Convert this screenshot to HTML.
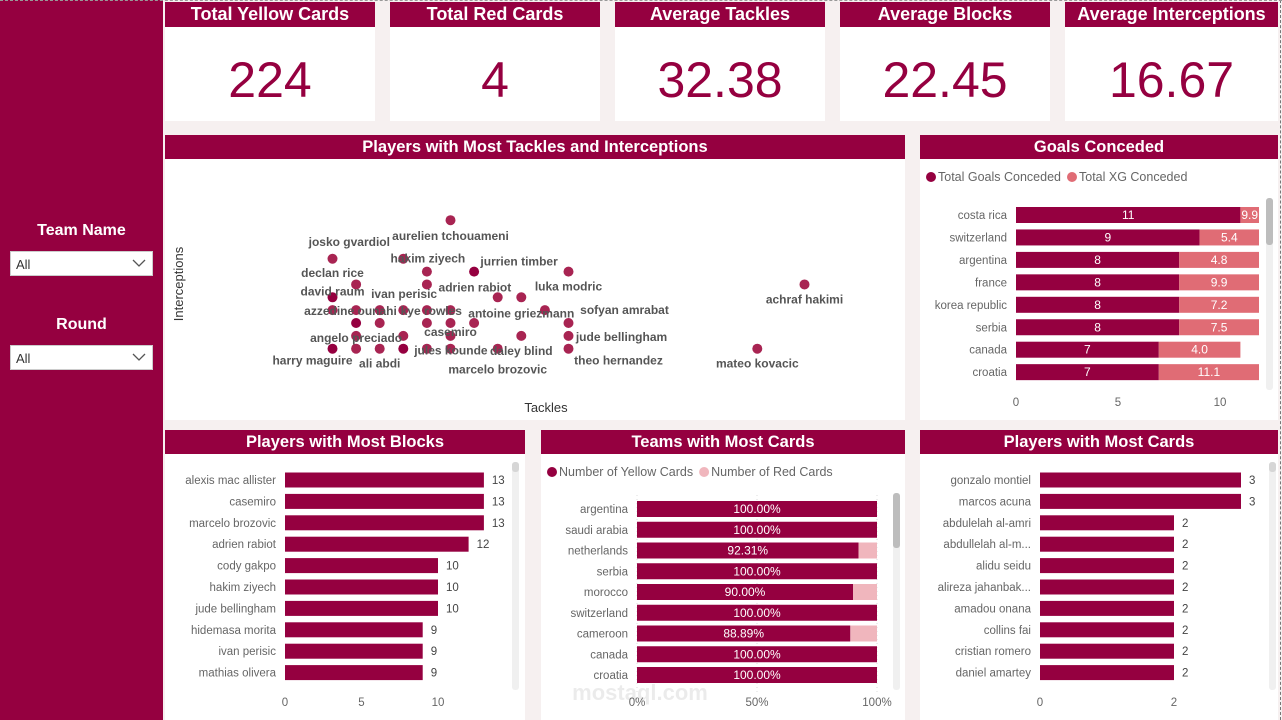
<!DOCTYPE html>
<html><head><meta charset="utf-8">
<style>
html,body{margin:0;padding:0}
body{width:1282px;height:720px;position:relative;background:#f6f0f0;font-family:"Liberation Sans",sans-serif;overflow:hidden}
.abs{position:absolute}
.side{left:0;top:0;width:163px;height:720px;background:#950040}
.slabel{position:absolute;left:0;width:163px;text-align:center;color:#fff;font-weight:bold;font-size:16px}
.dd{position:absolute;left:10px;width:143px;height:25px;background:#fff;border:1px solid #ccc;font-size:13px;color:#333;line-height:25px;box-sizing:border-box;padding-left:5px}
.dd svg{position:absolute;right:6px;top:7px}
.card{position:absolute;top:2px;height:119px;background:#fff}
.ttl{position:absolute;left:0;right:0;top:0;height:25px;background:#950040;color:#fff;font-weight:bold;font-size:18px;text-align:center;line-height:25px}
.val{position:absolute;left:0;right:0;top:50px;text-align:center;color:#950040;font-size:50px;line-height:56px}
.panel{position:absolute;background:#fff}
.ptl{position:absolute;left:0;right:0;top:0;height:24px;background:#950040;color:#fff;font-weight:bold;font-size:16.5px;text-align:center;line-height:24px}
svg#chart{position:absolute;left:0;top:0}
</style></head>
<body>
<div class="abs side">
 <div class="slabel" style="top:222px">Team Name</div>
 <div class="dd" style="top:251px">All<svg width="14" height="9"><polyline points="1,1 7,7 13,1" fill="none" stroke="#555" stroke-width="1.3"/></svg></div>
 <div class="slabel" style="top:316px">Round</div>
 <div class="dd" style="top:345px">All<svg width="14" height="9"><polyline points="1,1 7,7 13,1" fill="none" stroke="#555" stroke-width="1.3"/></svg></div>
</div>
<div class="card" style="left:165px;width:210px"><div class="ttl">Total Yellow Cards</div><div class="val">224</div></div>
<div class="card" style="left:390px;width:210px"><div class="ttl">Total Red Cards</div><div class="val">4</div></div>
<div class="card" style="left:615px;width:210px"><div class="ttl">Average Tackles</div><div class="val">32.38</div></div>
<div class="card" style="left:840px;width:210px"><div class="ttl">Average Blocks</div><div class="val">22.45</div></div>
<div class="card" style="left:1065px;width:213px"><div class="ttl">Average Interceptions</div><div class="val">16.67</div></div>

<div class="panel" style="left:165px;top:135px;width:740px;height:285px"><div class="ptl">Players with Most Tackles and Interceptions</div></div>
<div class="panel" style="left:920px;top:135px;width:358px;height:285px"><div class="ptl">Goals Conceded</div></div>
<div class="panel" style="left:165px;top:430px;width:360px;height:290px"><div class="ptl">Players with Most Blocks</div></div>
<div class="panel" style="left:541px;top:430px;width:364px;height:290px"><div class="ptl">Teams with Most Cards</div></div>
<div class="panel" style="left:920px;top:430px;width:358px;height:290px"><div class="ptl">Players with Most Cards</div></div>
<div class="abs" style="left:1280px;top:0;height:720px;border-left:1px dashed #777"></div>
<div class="abs" style="left:0;top:0;width:1282px;border-top:1px dashed #999"></div>

<svg id="chart" width="1282" height="720" xmlns="http://www.w3.org/2000/svg" font-family="Liberation Sans, sans-serif"></svg>

<script>
// ---- Scatter data ----
const scNames=["aurelien tchouameni","declan rice","josko gvardiol","hakim ziyech","jurrien timber","luka modric","","adrien rabiot","achraf hakimi","david raum","","antoine griezmann","azzedine ounahi","ivan perisic","","kye rowles","","","","","","","casemiro","","sofyan amrabat","angelo preciado","","","daley blind","jude bellingham","harry maguire","","ali abdi","","jules kounde","","marcelo brozovic","theo hernandez","mateo kovacic"];
const scTackles=[13,8,11,12,14,18,9,12,28,8,15,16,8,9,10,11,12,13,17,9,10,12,13,14,18,9,11,13,16,18,8,9,10,11,12,13,15,18,26];
const scInter=[13,10,10,9,9,9,8,8,8,7,7,7,6,6,6,6,6,6,6,5,5,5,5,5,5,4,4,4,4,4,3,3,3,3,3,3,3,3,3];
const scDark=[0,0,0,0,1,0,0,0,0,1,0,0,0,0,0,0,0,0,0,1,0,0,0,0,0,0,0,0,0,0,1,0,0,1,0,0,0,0,0];
const scLabelDx=[0,0,-54,1,45,0,0,48,0,0,0,0,18,48,0,28,0,0,0,0,0,0,0,0,56,0,0,0,0,53,-20,0,0,0,24,0,0,50,0];
const scLabelDy=[16,14,-17,-13,-10,15,0,3,15,-6,0,16,1,-16,0,1,0,0,0,0,0,0,9,0,-13,2,0,0,15,1,12,0,15,0,2,0,21,12,15];
// ---- Goals conceded ----
const gcTeams=["costa rica","switzerland","argentina","france","korea republic","serbia","canada","croatia"];
const gcGoals=[11,9,8,8,8,8,7,7];
const gcXG=[9.9,5.4,4.8,9.9,7.2,7.5,4.0,11.1];
const gcTicks=[0,5,10];
// ---- Blocks ----
const blNames=["alexis mac allister","casemiro","marcelo brozovic","adrien rabiot","cody gakpo","hakim ziyech","jude bellingham","hidemasa morita","ivan perisic","mathias olivera"];
const blValues=[13,13,13,12,10,10,10,9,9,9];
const blTicks=[0,5,10];
// ---- Teams cards ----
const tcTeams=["argentina","saudi arabia","netherlands","serbia","morocco","switzerland","cameroon","canada","croatia"];
const tcYellowPct=[100,100,92.31,100,90,100,88.89,100,100];
const tcTicks=[0,50,100];
// ---- Players cards ----
const pcNames=["gonzalo montiel","marcos acuna","abdulelah al-amri","abdullelah al-m...","alidu seidu","alireza jahanbak...","amadou onana","collins fai","cristian romero","daniel amartey"];
const pcValues=[3,3,2,2,2,2,2,2,2,2];
const pcTicks=[0,2];

const S=document.getElementById('chart');
const NS="http://www.w3.org/2000/svg";
function mk(tag,attrs,parent){const e=document.createElementNS(NS,tag);for(const k in attrs)e.setAttribute(k,attrs[k]);(parent||S).appendChild(e);return e;}
function txt(x,y,s,attrs){const e=mk('text',Object.assign({x:x,y:y},attrs));e.textContent=s;return e;}
const MAR="#950040", MAR2="#a82452", XG="#e06c75", RED="#f0b6bd", GRAY="#666";

// Scatter
const sx=t=>332.5+23.6*(t-8), sy=i=>348.7-12.85*(i-3);
const sg=mk('g',{});


for(let k=0;k<scNames.length;k++){
  const x=sx(scTackles[k]),y=sy(scInter[k]);
  const c=mk('circle',{cx:x,cy:y,r:5,fill:scDark[k]?MAR:MAR2},sg);
  
  
}
for(let k=0;k<scNames.length;k++){
  if(!scNames[k])continue;
  const x=sx(scTackles[k]),y=sy(scInter[k]);
  const t=txt(x+scLabelDx[k],y+scLabelDy[k]+4,scNames[k],{'text-anchor':'middle','font-size':'12','font-weight':'bold',fill:'#555'});
  
  
}
const xt=txt(546,412,"Tackles",{'text-anchor':'middle','font-size':'13',fill:'#333'});


const yt=txt(0,0,"Interceptions",{'text-anchor':'middle','font-size':'13',fill:'#333',transform:'translate(183,284) rotate(-90)'});



// Legend helper
function legend(x,y,items){let cx=x;items.forEach(([lab,col])=>{
  const d=mk('circle',{cx:cx+5,cy:y-4,r:5,fill:col});
  
  
  const t=txt(cx+12,y,lab,{'font-size':'12.5',fill:GRAY});
  
  
  cx+=12+t.getComputedTextLength()+6;});}

// Goals conceded
legend(926,181,[["Total Goals Conceded",MAR],["Total XG Conceded",XG]]);
const gx=v=>1016+20.4*v;
mk('clipPath',{id:'gclip'});
mk('rect',{x:1016,y:190,width:243,height:200},S.lastChild);
const gg=mk('g',{'clip-path':'url(#gclip)'});
gcTeams.forEach((n,i)=>{
  const yc=215+22.45*i;
  const l=txt(1007,yc+4,n,{'text-anchor':'end','font-size':'11.5',fill:GRAY});
  
  
  const b=mk('rect',{x:gx(0),y:yc-8,width:gx(gcGoals[i])-gx(0),height:16,fill:MAR},gg);
  
  
  const b2=mk('rect',{x:gx(gcGoals[i]),y:yc-8,width:gx(gcGoals[i]+gcXG[i])-gx(gcGoals[i]),height:16,fill:XG},gg);
  
  
  txt((gx(0)+gx(gcGoals[i]))/2,yc+4,String(gcGoals[i]),{'text-anchor':'middle','font-size':'12',fill:'#fff'});
  const e=Math.min(gx(gcGoals[i]+gcXG[i]),1259);
  txt((gx(gcGoals[i])+e)/2,yc+4,gcXG[i].toFixed(1),{'text-anchor':'middle','font-size':'12',fill:'#fff'});
});
gcTicks.forEach(t=>{const e=txt(gx(t),406,String(t),{'text-anchor':'middle','font-size':'11.5',fill:GRAY});
  
  });
mk('rect',{x:1266,y:198,width:7,height:192,rx:3,fill:'#f0f0f0'});
const gs=mk('rect',{x:1266,y:198,width:7,height:47,rx:3,fill:'#bdbdbd'});



// Generic horizontal bar chart with value labels
function hbar(names,vals,ticks,x0,scale,y0,step,prefix,labelX,trackX){
  names.forEach((n,i)=>{
    const yc=y0+step*i;
    const l=txt(labelX,yc+4,n,{'text-anchor':'end','font-size':'11.5',fill:GRAY});
    
    
    const w=vals[i]*scale;
    const b=mk('rect',{x:x0,y:yc-7.5,width:w,height:15,fill:MAR});
    
    
    const v=txt(x0+w+8,yc+4,String(vals[i]),{'font-size':'11.5',fill:'#444'});
    
    
  });
  ticks.forEach(t=>{const e=txt(x0+t*scale,706,String(t),{'text-anchor':'middle','font-size':'11.5',fill:GRAY});
    
    });
  const s=mk('rect',{x:trackX,y:462,width:7,height:228,rx:3,fill:'#f0f0f0'});
  
  
  mk('rect',{x:trackX,y:462,width:7,height:10,rx:3,fill:'#d6d6d6'});
}
hbar(blNames,blValues,blTicks,285,15.3,480,21.4,'blocks',276,512);
hbar(pcNames,pcValues,pcTicks,1040,67,480,21.4,'cards',1031,1269);

// Teams cards 100% stacked
legend(547,476,[["Number of Yellow Cards",MAR],["Number of Red Cards",RED]]);
const tx=p=>637+2.4*p;
tcTicks.forEach(t=>{mk('line',{x1:tx(t),x2:tx(t),y1:495,y2:692,stroke:'#ddd','stroke-dasharray':'1,3'});
  const e=txt(tx(t),706,t+"%",{'text-anchor':'middle','font-size':'11.5',fill:GRAY});
  
  });
tcTeams.forEach((n,i)=>{
  const yc=509+20.75*i;
  const l=txt(628,yc+4,n,{'text-anchor':'end','font-size':'11.5',fill:GRAY});
  
  
  const b=mk('rect',{x:tx(0),y:yc-8,width:tx(tcYellowPct[i])-tx(0),height:16,fill:MAR});
  
  
  const r=mk('rect',{x:tx(tcYellowPct[i]),y:yc-8,width:tx(100)-tx(tcYellowPct[i]),height:16,fill:RED});
  
  
  txt((tx(0)+tx(tcYellowPct[i]))/2,yc+4,tcYellowPct[i].toFixed(2)+"%",{'text-anchor':'middle','font-size':'12',fill:'#fff'});
});
mk('rect',{x:893,y:493,width:7,height:197,rx:3,fill:'#f0f0f0'});
const ts=mk('rect',{x:893,y:493,width:7,height:55,rx:3,fill:'#bdbdbd'});


const wm=txt(640,700,"mostaql.com",{'text-anchor':'middle','font-size':'22','font-weight':'bold',fill:'#000','fill-opacity':'0.08'});


</script>
</body></html>
